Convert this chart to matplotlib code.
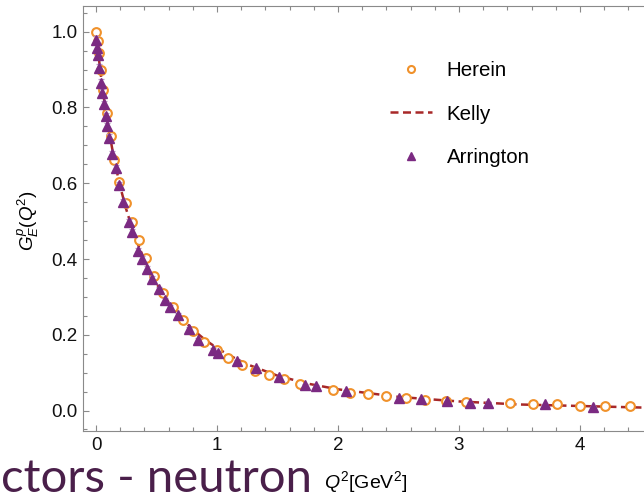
import matplotlib
matplotlib.use("Agg")
import matplotlib.pyplot as plt
from matplotlib.ticker import MultipleLocator

plt.rcParams['font.family'] = ['Liberation Sans', 'DejaVu Sans']
plt.rcParams['mathtext.fontset'] = 'custom'
plt.rcParams['mathtext.rm'] = 'Liberation Sans'
plt.rcParams['mathtext.it'] = 'Liberation Sans:italic'

# Herein (open circles)
herein_q2 = [0.0, 0.014, 0.027, 0.041, 0.060, 0.093, 0.124, 0.152, 0.193, 0.245,
             0.295, 0.353, 0.413, 0.482, 0.554, 0.639, 0.717, 0.804, 0.895, 0.997,
             1.095, 1.207, 1.317, 1.432, 1.556, 1.690, 1.955, 2.10, 2.25, 2.40,
             2.56, 2.72, 2.89, 3.06, 3.42, 3.61, 3.81, 4.00, 4.21, 4.41, 4.57]
herein_g = [1.000, 0.975, 0.944, 0.900, 0.847, 0.786, 0.725, 0.661, 0.603, 0.547,
            0.498, 0.450, 0.403, 0.355, 0.311, 0.272, 0.238, 0.209, 0.182, 0.161,
            0.139, 0.121, 0.105, 0.093, 0.082, 0.071, 0.055, 0.047, 0.043, 0.038,
            0.032, 0.029, 0.026, 0.023, 0.019, 0.017, 0.016, 0.013, 0.012, 0.011, 0.009]

# Kelly parametrisation (dashed line)
kelly_q2 = [0.0, 0.005, 0.01, 0.02, 0.03, 0.05, 0.075, 0.1, 0.15, 0.2, 0.25, 0.3,
            0.35, 0.4, 0.45, 0.5, 0.6, 0.7, 0.8, 0.9, 1.0, 1.1, 1.25, 1.5, 1.75,
            2.0, 2.5, 3.0, 3.5, 4.0, 4.5, 4.75]
kelly_g = [1.0, 0.985, 0.970, 0.940, 0.912, 0.860, 0.802, 0.751, 0.663, 0.591,
           0.531, 0.480, 0.436, 0.398, 0.364, 0.335, 0.286, 0.246, 0.214, 0.187,
           0.165, 0.146, 0.122, 0.092, 0.071, 0.056, 0.036, 0.024, 0.016, 0.012,
           0.008, 0.007]

# Arrington (triangles with error bars)
arr_q2 = [0.0, 0.006, 0.014, 0.027, 0.039, 0.047, 0.064, 0.080, 0.093, 0.110,
          0.130, 0.163, 0.193, 0.226, 0.275, 0.294, 0.344, 0.382, 0.424, 0.465,
          0.519, 0.574, 0.610, 0.679, 0.770, 0.845, 0.969, 1.010, 1.162, 1.319,
          1.514, 1.73, 1.82, 2.07, 2.50, 2.69, 2.90, 3.09, 3.24, 3.71, 4.11]
arr_g = [0.979, 0.957, 0.939, 0.904, 0.865, 0.839, 0.808, 0.777, 0.751, 0.720,
         0.676, 0.639, 0.595, 0.550, 0.497, 0.470, 0.421, 0.400, 0.374, 0.347,
         0.321, 0.291, 0.273, 0.251, 0.216, 0.187, 0.161, 0.152, 0.130, 0.111,
         0.088, 0.068, 0.064, 0.052, 0.034, 0.030, 0.024, 0.020, 0.020, 0.016, 0.010]
arr_err = [0.010, 0.010, 0.010, 0.010, 0.010, 0.009, 0.009, 0.009, 0.009, 0.009,
           0.009, 0.008, 0.008, 0.008, 0.008, 0.008, 0.007, 0.007, 0.007, 0.007,
           0.006, 0.006, 0.006, 0.006, 0.005, 0.005, 0.005, 0.005, 0.004, 0.004,
           0.004, 0.003, 0.003, 0.003, 0.003, 0.003, 0.002, 0.002, 0.002, 0.002, 0.002]

orange = '#F0912A'
kelly_red = '#A82828'
purple = '#7B2A82'
frame = '#8a8a8a'

fig = plt.figure(figsize=(6.44, 4.95), dpi=100)
ax = fig.add_axes([83.3/644, 64/495, (670.75-83.3)/644, (431-5.7)/495])

ax.plot(kelly_q2, kelly_g, color=kelly_red, lw=1.8, dashes=(3.2, 1.8),
        label='Kelly', zorder=2)
ax.plot(herein_q2, herein_g, ls='none', marker='o', ms=6.3, mew=1.5,
        mec=orange, mfc='white', label='Herein', zorder=3)
ax.errorbar(arr_q2, arr_g, yerr=arr_err, fmt='none', ecolor='#b996c4',
            elinewidth=0.9, capsize=2.5, capthick=0.9, zorder=4)
ax.plot(arr_q2, arr_g, ls='none', marker='^', ms=6.5, color=purple,
        label='Arrington', zorder=5)

ax.set_xlim(-0.105, 4.75)
ax.set_ylim(-0.054, 1.0686)
ax.xaxis.set_major_locator(MultipleLocator(1))
ax.xaxis.set_minor_locator(MultipleLocator(0.2))
ax.yaxis.set_major_locator(MultipleLocator(0.2))
ax.yaxis.set_minor_locator(MultipleLocator(0.05))
ax.tick_params(which='both', direction='in', top=True, right=True,
               color=frame, width=0.8, labelsize=13.5, labelcolor='#111111')
ax.tick_params(which='major', length=4.5, pad=4)
ax.tick_params(which='minor', length=2.6)
for s in ax.spines.values():
    s.set_color(frame)
    s.set_linewidth(0.8)

h, l = ax.get_legend_handles_labels()
order = [1, 0, 2]
leg = ax.legend([h[i] for i in order], [l[i] for i in order], loc='upper left',
                bbox_to_anchor=(390/644, 1-61/495), bbox_transform=fig.transFigure,
                frameon=False, fontsize=14.8, borderpad=0, borderaxespad=0,
                handlelength=2.05, handletextpad=0.7, labelspacing=1.2,
                markerscale=0.8)

fig.text(28/644, 1-221/495, r'$G_E^p(Q^2)$', rotation=90, ha='center',
         va='center', fontsize=13.5)
fig.text(366/644, 1-482/495, r'$Q^2$[GeV$^2$]', ha='center', va='center',
         fontsize=14)
fig.text(1/644, 3/495, 'ctors - neutron', family=['Lato', 'DejaVu Sans'],
         fontsize=34, color='#4A1F4A', ha='left', va='baseline')

fig.savefig('out.png', dpi=100)
